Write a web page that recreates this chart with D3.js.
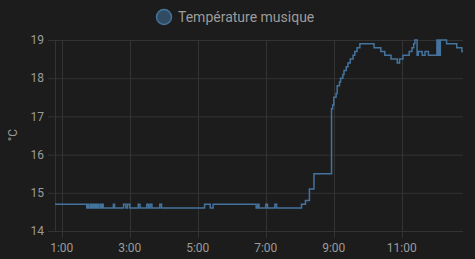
<!DOCTYPE html>
<html><head><meta charset="utf-8">
<script src="https://cdn.jsdelivr.net/npm/d3@7"></script>
<style>
html,body{margin:0;padding:0;background:#1c1c1c;}
svg{display:block;}
text{font-family:Roboto,"Noto Sans",sans-serif;}
</style></head>
<body>
<svg id="c" width="475" height="259"></svg>
<script>
const seriesName = "Température musique";
const unit = "°C";
const times = ["0:48","1:44","1:46","1:48","1:51","1:53","1:55","1:57","1:59","2:01","2:03","2:05","2:08","2:10","2:12","2:13","2:31","2:33","2:49","2:53","2:56","3:00","3:15","3:18","3:30","3:33","3:36","3:39","3:53","3:56","5:12","5:22","5:27","6:43","6:46","6:48","7:00","7:03","7:16","7:19","8:03","8:10","8:17","8:25","8:56","8:58","9:00","9:04","9:06","9:10","9:12","9:16","9:18","9:22","9:25","9:29","9:34","9:37","9:41","9:46","10:11","10:23","10:30","10:41","10:52","10:56","11:02","11:13","11:18","11:21","11:23","11:27","11:29","11:36","11:41","11:47","12:02","12:03","12:05","12:07","12:08","12:19","12:37","12:46","12:48"];
const values = [14.7,14.6,14.7,14.6,14.7,14.6,14.7,14.6,14.7,14.6,14.7,14.6,14.7,14.6,14.7,14.6,14.7,14.6,14.7,14.6,14.7,14.6,14.7,14.6,14.7,14.6,14.7,14.6,14.7,14.6,14.7,14.6,14.7,14.6,14.7,14.6,14.7,14.6,14.7,14.6,14.7,14.8,15.1,15.5,17.2,17.3,17.5,17.6,17.8,17.9,18.0,18.1,18.2,18.3,18.4,18.5,18.6,18.7,18.8,18.9,18.8,18.7,18.6,18.5,18.4,18.5,18.6,18.7,18.8,18.9,19.0,18.6,18.7,18.6,18.7,18.6,19.0,18.6,19.0,18.6,19.0,18.9,18.8,18.7,18.7];
const xTicks = ["1:00","3:00","5:00","7:00","9:00","11:00"];
const yTicks = [14,15,16,17,18,19];
const xDomain = ["0:48","12:48"];
const yDomain = [14,19];

const parse = s => { const [h,m] = s.split(":").map(Number); return new Date(2024,0,1,h,m); };
const data = times.map((t,i)=>({t:parse(t), v:values[i]}));

const svg = d3.select("#c");
const L = 55, R = 463, T = 40, B = 231;
const x = d3.scaleTime().domain(xDomain.map(parse)).range([L,R]);
const y = d3.scaleLinear().domain(yDomain).range([B,T]);
const gridColor = "#333333";
const textColor = "#9b9b9b";

// horizontal grid
svg.append("g").selectAll("line").data(yTicks).join("line")
  .attr("x1",L-7).attr("x2",R).attr("y1",d=>y(d)+0.5).attr("y2",d=>y(d)+0.5)
  .attr("stroke",gridColor).attr("stroke-width",1);
// vertical grid
svg.append("g").selectAll("line").data(xTicks).join("line")
  .attr("x1",d=>Math.round(x(parse(d)))+0.5).attr("x2",d=>Math.round(x(parse(d)))+0.5)
  .attr("y1",T).attr("y2",B+7)
  .attr("stroke",gridColor).attr("stroke-width",1);
// left border
svg.append("line").attr("x1",L+0.5).attr("x2",L+0.5).attr("y1",T).attr("y2",B)
  .attr("stroke",gridColor);

// y labels
svg.append("g").selectAll("text").data(yTicks).join("text")
  .attr("x",L-11).attr("y",d=>y(d)).attr("dy","0.35em")
  .attr("text-anchor","end").attr("fill",textColor).attr("font-size",12)
  .text(d=>d);
// x labels
svg.append("g").selectAll("text").data(xTicks).join("text")
  .attr("x",d=>x(parse(d))).attr("y",248).attr("dy","0.35em")
  .attr("text-anchor","middle").attr("fill",textColor).attr("font-size",12)
  .text(d=>d);
// y title
svg.append("text").attr("transform","translate(13,135) rotate(-90)")
  .attr("text-anchor","middle").attr("dy","0.35em")
  .attr("fill",textColor).attr("font-size",12).text(unit);

// line
const line = d3.line().x(d=>x(d.t)).y(d=>y(d.v)).curve(d3.curveStepAfter);
svg.append("path").datum(data).attr("d",line)
  .attr("fill","none").attr("stroke","#44739e").attr("stroke-width",1.5)
  .attr("stroke-linejoin","miter");

// legend
svg.append("circle").attr("cx",164).attr("cy",17).attr("r",7.5)
  .attr("fill","rgba(68,115,158,0.55)").attr("stroke","#44739e").attr("stroke-width",1.5);
svg.append("text").attr("x",178).attr("y",17).attr("dy","0.35em")
  .attr("fill",textColor).attr("font-size",14).text(seriesName);
</script>
</body></html>
